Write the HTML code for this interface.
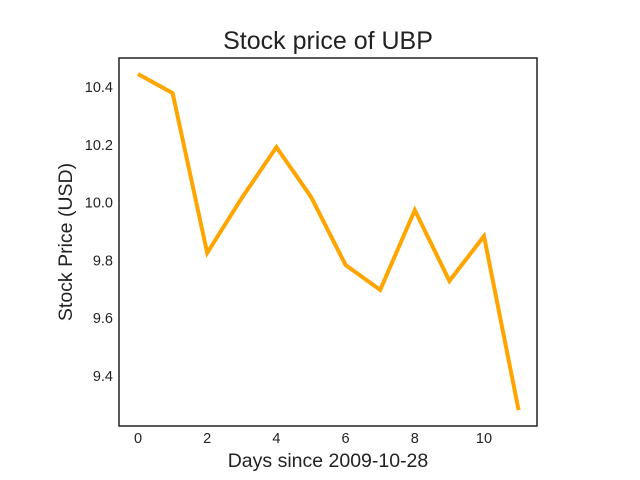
<!DOCTYPE html>
<html><head><meta charset="utf-8"><style>
html,body{margin:0;padding:0;background:#fff;}
svg{display:block;font-family:"Liberation Sans","DejaVu Sans",sans-serif;}
</style></head><body>
<svg id="chart" width="640" height="480">
<rect width="640" height="480" fill="#fff"/>
<text x="328" y="49" text-anchor="middle" font-size="25" fill="#222">Stock price of UBP</text>
<text x="328" y="467" text-anchor="middle" font-size="19.5" fill="#222">Days since 2009-10-28</text>
<text transform="translate(72,242) rotate(-90)" text-anchor="middle" font-size="19.5" fill="#222">Stock Price (USD)</text>
<g id="xt"></g>
<g id="yt"></g>
<path id="line" fill="none" stroke="#ffa500" stroke-width="4" stroke-linejoin="miter"/>
<rect x="119" y="58" width="418" height="368" fill="none" stroke="#222" stroke-width="1.5"/>
</svg>
<script>
const days = [0,1,2,3,4,5,6,7,8,9,10,11];
const prices = [10.445,10.379,9.826,10.016,10.192,10.02,9.784,9.698,9.974,9.729,9.884,9.282];
const xTicks = [0,2,4,6,8,10];
const yTicks = [9.4,9.6,9.8,10.0,10.2,10.4];
const yTickLabels = ["9.4","9.6","9.8","10.0","10.2","10.4"];
const NS="http://www.w3.org/2000/svg";
function sx(v){return 138+v*34.6;}
function sy(v){return 87+(10.4-v)*289;}
const xt=document.getElementById('xt'), yt=document.getElementById('yt');
xTicks.forEach(t=>{
  const e=document.createElementNS(NS,'text');
  
  
  e.setAttribute('x',sx(t));e.setAttribute('y',443);e.setAttribute('text-anchor','middle');
  e.setAttribute('font-size','14.5');e.setAttribute('fill','#222');e.textContent=t;xt.appendChild(e);
});
yTicks.forEach((t,i)=>{
  const e=document.createElementNS(NS,'text');
  
  
  e.setAttribute('x',113);e.setAttribute('y',sy(t)+5);e.setAttribute('text-anchor','end');
  e.setAttribute('font-size','14.5');e.setAttribute('fill','#222');e.textContent=yTickLabels[i];yt.appendChild(e);
});
document.getElementById('line').setAttribute('d',days.map((d,i)=>(i?'L':'M')+sx(d)+','+sy(prices[i])).join(' '));
</script>
</body></html>
